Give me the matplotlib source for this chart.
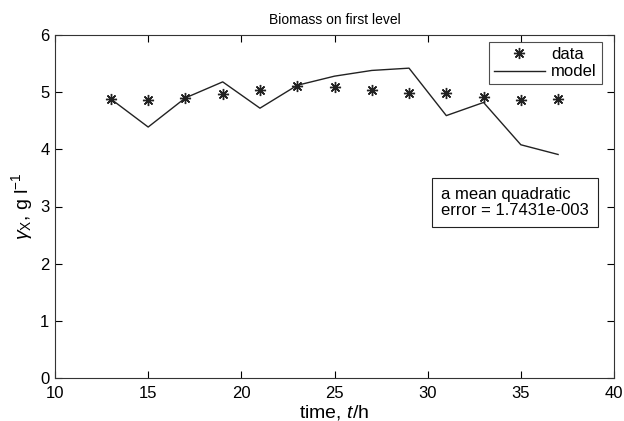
import numpy as np
import matplotlib
matplotlib.use('Agg')
import matplotlib.pyplot as plt

plt.rcParams['font.family'] = ['Liberation Sans', 'DejaVu Sans']
plt.rcParams['mathtext.fontset'] = 'custom'
plt.rcParams['mathtext.rm'] = 'Liberation Sans'
plt.rcParams['mathtext.it'] = 'Liberation Sans:italic'

# time points and values
t = [13, 15, 17, 19, 21, 23, 25, 27, 29, 31, 33, 35, 37]
data = [4.88, 4.86, 4.90, 4.96, 5.04, 5.11, 5.09, 5.03, 4.99, 4.99, 4.92, 4.87, 4.88]
model = [4.88, 4.39, 4.90, 5.18, 4.72, 5.12, 5.28, 5.38, 5.42, 4.59, 4.82, 4.08, 3.91]

fig = plt.figure(figsize=(6.24, 4.21), dpi=100)
ax = fig.add_axes([55/624, 1 - 378/421, 559/624, 343/421])

ax.plot(t, data, linestyle='none', marker=(8, 2, 0), markersize=8,
        markeredgewidth=1.0, color='#222222', label='data')
ax.plot(t, model, color='#222222', linewidth=1.0, label='model')

ax.set_xlim(10, 40)
ax.set_ylim(0, 6)
ax.set_xticks([10, 15, 20, 25, 30, 35, 40])
ax.set_yticks([0, 1, 2, 3, 4, 5, 6])
ax.tick_params(direction='in', length=5, labelsize=12, top=True, right=True)
ax.tick_params(axis='x', pad=6)
ax.tick_params(axis='y', pad=4)
for s in ax.spines.values():
    s.set_linewidth(0.8)
    s.set_color('#333333')

ax.set_title('Biomass on first level', fontsize=10, pad=8)
ax.set_xlabel('time, $t$/h', fontsize=14, labelpad=1)
ax.set_ylabel(r'$\gamma_{\rm X}$, g l$^{-1}$', fontsize=14)

leg = ax.legend(loc='upper right', bbox_to_anchor=(0.9785, 0.98), borderaxespad=0,
                fontsize=12, frameon=True, fancybox=False, edgecolor='#222222',
                handlelength=3.05, handletextpad=0.4, borderpad=0.3, labelspacing=0.15)
leg.get_frame().set_linewidth(0.8)

ax.text(0.690, 0.557, 'a mean quadratic\nerror = 1.7431e-003', transform=ax.transAxes,
        fontsize=12, va='top', ha='left', linespacing=1.05,
        bbox=dict(boxstyle='square,pad=0.55', facecolor='white', edgecolor='#222222', linewidth=0.8))

fig.savefig('out.png', dpi=100)
